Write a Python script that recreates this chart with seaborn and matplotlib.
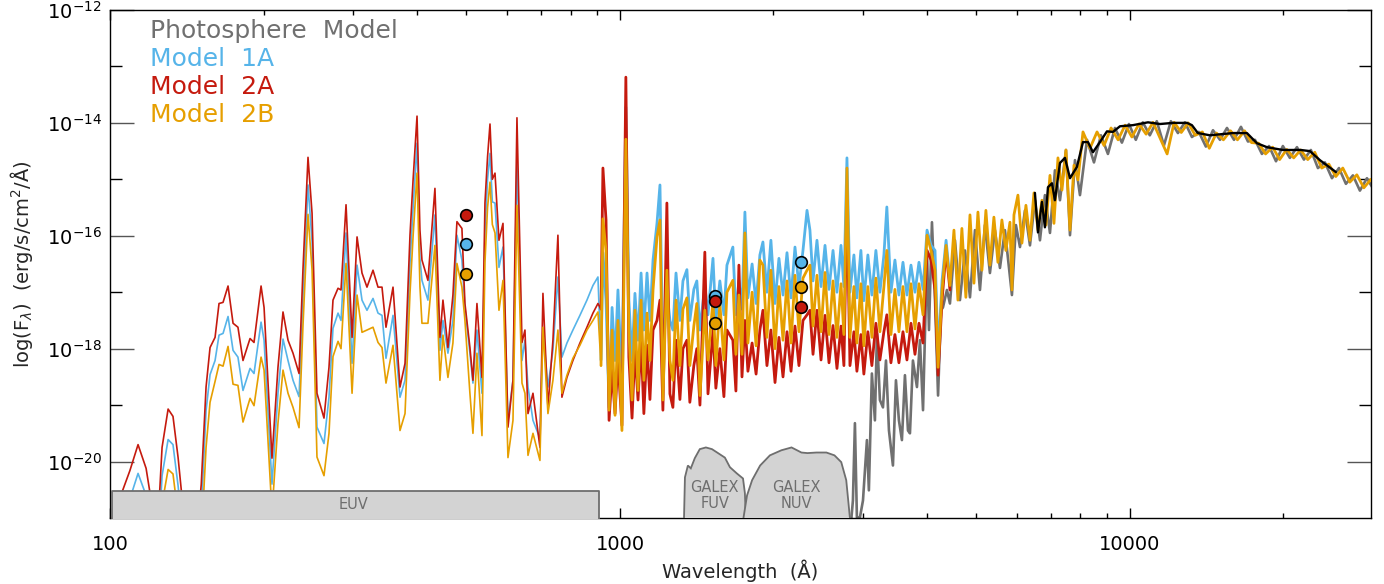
import numpy as np
import matplotlib
matplotlib.use("Agg")
import matplotlib.pyplot as plt
import seaborn as sns
from matplotlib.ticker import FixedLocator, LogFormatterSciNotation, NullFormatter, LogLocator

# ---------------------------------------------------------------------------
# Spectra: wavelength in Angstrom, flux given as log10(erg/s/cm^2/A)
# ---------------------------------------------------------------------------

# EUV part (shared wavelength grid for the three chromosphere models)
wave_euv = [100, 105, 109.4, 113.5, 117.7, 120.5, 124, 126.5, 130.0, 132.9,
            136.0, 139, 148, 151, 154.3, 157.1, 160.7, 163.6, 166.6, 170.4,
            174.3, 178.2, 182.3, 188.2, 191.6, 197.8, 200.5, 207.8, 213.5, 218.4,
            223.4, 228.5, 234.8, 239.0, 244.5, 249, 254.6, 262.8, 268.8, 273.7,
            280.0, 283.8, 290.3, 298.3, 305.1, 312.0, 319.1, 327.9, 335.4, 341.5,
            347.7, 358.9, 370.4, 378.9, 387.5, 393, 400.0, 405.3, 409.0, 420.2,
            433.7, 443.6, 449.7, 459.9, 470.4, 479.0, 489.9, 496.6, 507.9, 514.9,
            524.3, 536.3, 543.6, 550.0, 556.1, 562, 568.8, 579.1, 589.7, 603.1,
            616.9, 628.1, 642.5, 651.2, 660.2, 675.2, 696.8, 706.3, 722.4, 738.9,
            755.7, 769.5, 787.1, 808.6, 834.6, 861.5, 885.2, 905.4, 918]

model_1a_euv = [-21.6, -21.1, -20.66, -20.21, -20.6, -21.2, -21.7, -20.25, -19.61, -19.70,
                -20.43, -21.3, -21.8, -20.9, -19.1, -18.46, -18.21, -17.76, -17.73, -17.43,
                -18.03, -18.15, -18.74, -18.35, -18.44, -17.53, -17.85, -20.4, -18.79, -17.83,
                -18.21, -18.56, -18.85, -17.1, -15.10, -16.1, -19.39, -19.68, -18.86, -17.64,
                -17.37, -17.5, -15.95, -18.26, -16.52, -17.14, -17.32, -17.11, -17.37, -17.41,
                -18.17, -17.41, -18.86, -18.56, -16.49, -15.5, -14.36, -16.4, -16.79, -17.14,
                -15.63, -18.03, -17.50, -18.08, -17.50, -15.99, -16.43, -17.27, -18.08, -18.61,
                -17.67, -18.79, -15.95, -15.0, -14.54, -15.4, -15.42, -16.56, -16.20, -19.27,
                -18.56, -14.66, -18.21, -17.85, -18.68, -19.27, -19.59, -17.64, -18.68, -18.03,
                -16.73, -18.15, -17.90, -17.67, -17.41, -17.14, -16.88, -16.73, -18.2]

model_2a_euv = [-21.1, -20.6, -20.16, -19.70, -20.12, -20.7, -21.2, -19.75, -19.07, -19.20,
                -19.93, -20.8, -21.3, -20.4, -18.68, -17.98, -17.80, -17.20, -17.18, -16.89,
                -17.55, -17.62, -18.21, -17.82, -17.89, -16.89, -17.27, -19.94, -18.33, -17.35,
                -17.85, -18.08, -18.44, -16.6, -14.61, -15.6, -18.79, -19.23, -18.33, -17.14,
                -16.93, -16.96, -15.45, -17.80, -16.02, -16.66, -16.91, -16.61, -16.91, -16.91,
                -17.62, -16.91, -18.68, -18.26, -15.99, -15.0, -13.88, -15.9, -16.43, -16.79,
                -15.16, -17.80, -17.14, -17.98, -17.05, -15.75, -15.87, -17.20, -17.98, -18.56,
                -17.20, -18.51, -15.42, -14.6, -14.02, -15.0, -14.89, -16.08, -15.78, -19.39,
                -18.56, -13.91, -17.89, -17.67, -19.15, -18.79, -19.75, -17.02, -19.04, -17.85,
                -15.99, -18.86, -18.51, -18.21, -17.90, -17.62, -17.37, -17.20, -17.3]

model_2b_euv = [-22.0, -21.6, -21.2, -20.65, -21.1, -21.7, -22.0, -20.75, -20.14, -20.22,
                -20.95, -21.8, -22.0, -21.4, -19.75, -18.95, -18.58, -18.28, -18.31, -17.96,
                -18.63, -18.65, -19.30, -18.88, -19.01, -18.15, -18.38, -20.9, -19.32, -18.38,
                -18.79, -19.04, -19.40, -17.6, -15.62, -16.6, -19.92, -20.25, -19.50, -18.14,
                -17.87, -18.0, -16.49, -18.79, -17.05, -17.71, -17.67, -17.62, -17.89, -17.98,
                -18.61, -17.94, -19.45, -19.15, -17.02, -16.0, -14.89, -16.9, -17.55, -17.55,
                -16.17, -18.56, -17.76, -18.51, -17.90, -16.49, -16.91, -17.50, -18.79, -19.50,
                -18.08, -19.54, -16.47, -15.5, -15.05, -15.8, -15.95, -17.32, -16.79, -19.93,
                -19.27, -15.46, -18.61, -18.79, -19.89, -19.50, -19.98, -17.62, -19.15, -18.56,
                -17.67, -18.79, -18.47, -18.17, -17.94, -17.67, -17.50, -17.35, -18.3]

# FUV / NUV part (shared grid)
wave_uv = [926, 939, 952, 965, 978, 991, 1009, 1027, 1041, 1056,
           1070, 1085, 1100, 1114, 1130, 1145, 1161, 1182, 1198, 1214,
           1236, 1253, 1270, 1288, 1311, 1329, 1353, 1371, 1396, 1415,
           1435, 1467, 1488, 1522, 1542, 1570, 1599, 1621, 1665, 1688,
           1711, 1735, 1758, 1782, 1816, 1849, 1881, 1907, 1942, 1977,
           2014, 2050, 2088, 2126, 2165, 2204, 2244, 2285, 2327, 2358,
           2391, 2434, 2479, 2524, 2570, 2617, 2664, 2713, 2749, 2787,
           2825, 2876, 2915, 2968, 3008, 3063, 3119, 3176, 3234, 3293,
           3337, 3399, 3461, 3524, 3589, 3654, 3721, 3789, 3858, 3929,
           4001, 4074, 4148, 4205, 4282, 4360, 4437]

model_1a_uv = [-16.3, -17.14, -19.04, -17.27, -18.21, -16.96, -18.61, -13.72, -17.14, -18.21,
               -17.02, -17.85, -16.66, -17.67, -16.66, -17.50, -16.43, -15.78, -15.10, -18.21,
               -16.96, -17.50, -17.67, -16.66, -17.50, -16.80, -16.60, -17.50, -16.95, -16.80,
               -17.67, -16.88, -17.40, -16.40, -17.50, -16.80, -17.40, -16.52, -16.20, -17.40,
               -16.79, -17.30, -15.58, -17.10, -16.50, -17.20, -16.34, -16.11, -17.00, -16.08,
               -17.20, -16.40, -17.05, -16.30, -17.10, -16.20, -16.90, -16.26, -15.55, -15.90,
               -16.80, -16.08, -16.90, -16.17, -16.95, -16.26, -17.00, -16.17, -16.90, -14.62,
               -17.00, -16.34, -17.10, -16.26, -17.15, -16.34, -17.05, -16.26, -17.00, -16.34,
               -15.49, -17.00, -16.43, -17.05, -16.47, -17.05, -16.52, -17.00, -16.47, -16.95,
               -15.90, -16.17, -16.26, -18.12, -16.79, -16.08, -16.79]

model_2a_uv = [-14.80, -15.72, -19.27, -18.38, -19.15, -18.21, -19.36, -13.19, -18.15, -19.23,
               -18.03, -18.91, -17.85, -19.15, -17.94, -18.90, -17.67, -17.50, -17.14, -19.09,
               -15.42, -18.80, -19.04, -17.85, -18.90, -18.00, -17.85, -18.95, -18.30, -18.00,
               -19.00, -16.29, -18.80, -17.67, -18.70, -18.00, -18.85, -17.67, -17.85, -18.75,
               -16.52, -18.50, -17.50, -18.40, -17.90, -18.45, -17.67, -17.32, -18.30, -17.67,
               -18.60, -17.80, -18.50, -17.70, -18.40, -17.60, -18.30, -17.50, -17.40, -17.32,
               -18.10, -17.32, -18.20, -17.41, -18.25, -17.59, -18.35, -17.60, -18.30, -15.37,
               -18.30, -17.70, -18.40, -17.75, -18.45, -17.70, -18.30, -17.55, -18.20, -17.70,
               -17.40, -18.25, -17.75, -18.25, -17.70, -18.20, -17.55, -18.10, -17.55, -17.90,
               -16.26, -16.43, -16.96, -18.47, -17.14, -16.26, -16.96]

model_2b_uv = [-15.7, -16.26, -19.09, -17.67, -19.18, -17.50, -19.45, -14.29, -17.67, -18.91,
               -17.32, -18.74, -17.14, -18.56, -17.37, -18.21, -16.96, -16.02, -15.72, -18.91,
               -16.61, -18.21, -18.56, -17.14, -18.30, -17.30, -17.10, -18.30, -17.60, -17.20,
               -18.83, -17.32, -18.20, -17.14, -18.30, -17.20, -18.20, -17.00, -16.79, -18.10,
               -17.05, -18.10, -15.95, -17.90, -17.00, -17.95, -16.43, -16.52, -17.80, -16.61,
               -18.00, -16.90, -17.85, -16.80, -17.90, -16.70, -17.70, -16.75, -16.61, -16.52,
               -17.60, -16.70, -17.70, -16.65, -17.75, -16.80, -17.80, -16.85, -17.75, -14.80,
               -17.80, -16.90, -17.90, -16.85, -17.95, -16.90, -17.80, -16.75, -17.70, -16.90,
               -16.26, -17.75, -16.95, -17.70, -16.90, -17.70, -16.85, -17.65, -16.85, -17.40,
               -15.99, -16.26, -16.61, -18.33, -16.96, -16.17, -16.88]

# Optical / near-IR, where the models sit on the photosphere
wave_opt = [4518, 4600, 4683, 4768, 4857, 4945, 5035, 5126, 5219, 5315,
            5411, 5510, 5610, 5712, 5818, 5870, 5924, 6031, 6141, 6253,
            6368, 6484, 6602, 6722, 6845, 6970, 7097, 7226, 7358, 7492,
            7629, 7768, 7910, 8090, 8350, 8620, 8897, 9184, 9480, 9786,
            10090, 10420, 10760, 11100, 11830, 12210, 12610, 13010, 13430, 13870,
            14310, 14780, 15250, 15750, 16250, 16780, 17320, 17880, 18450, 19050,
            19660, 20300, 20950, 21620, 22320, 23040, 23780, 24550, 25340, 26150,
            26990, 27860, 28760, 29690, 30800]

model_2b_opt = [-15.90, -17.14, -15.87, -17.09, -15.63, -16.84, -15.58, -16.61, -15.55, -16.52,
                -15.67, -16.47, -15.72, -16.26, -15.76, -16.96, -15.63, -15.28, -16.13, -15.46,
                -16.08, -15.24, -15.90, -15.37, -15.81, -14.93, -15.78, -14.62, -15.19, -14.48,
                -15.90, -14.75, -15.01, -14.16, -14.45, -14.16, -14.40, -14.09, -14.30, -14.04,
                -14.25, -14.02, -14.20, -13.99, -14.55, -13.99, -14.17, -14.00, -14.22, -14.16,
                -14.45, -14.18, -14.30, -14.14, -14.30, -14.14, -14.35, -14.36, -14.55, -14.43,
                -14.65, -14.47, -14.62, -14.48, -14.65, -14.52, -14.80, -14.73, -14.95, -14.80,
                -15.05, -14.92, -15.15, -15.00, -15.20]

# Photosphere-only model
wave_phot = [2774, 2825, 2863, 2889, 2915, 2955, 2996, 3050, 3077, 3119,
             3162, 3191, 3234, 3279, 3324, 3369, 3430, 3477, 3524, 3572,
             3621, 3671, 3704, 3754, 3823, 3875, 3929, 4001, 4036, 4091,
             4148, 4205, 4261, 4299, 4377, 4437, 4539, 4642, 4748, 4857,
             4968, 5081, 5196, 5315, 5436, 5561, 5687, 5870, 5977, 6087,
             6226, 6368, 6512, 6662, 6813, 6970, 7128, 7292, 7492, 7629,
             7803, 7981, 8238, 8502, 8774, 9055, 9346, 9645, 9955, 10270,
             10600, 10940, 11290, 11660, 12030, 12420, 12820, 13230, 13650, 14090,
             14550, 15020, 15500, 16000, 16510, 17040, 17590, 18150, 18740, 19340,
             19950, 20590, 21260, 21940, 22640, 23370, 24120, 24900, 25700, 26520,
             27370, 28250, 29160, 30370]

photosphere = [-21.3, -21.3, -20.69, -19.32, -20.99, -20.99, -20.69, -19.62, -20.51, -18.44,
               -19.27, -17.73, -18.91, -19.04, -18.21, -19.45, -20.07, -18.56, -19.27, -19.62,
               -18.47, -19.45, -19.50, -18.21, -18.68, -17.85, -19.09, -16.31, -17.67, -15.76,
               -17.14, -18.83, -17.32, -17.27, -16.96, -17.20, -16.08, -17.14, -16.26, -17.09,
               -15.90, -16.96, -15.81, -16.66, -15.90, -16.57, -15.90, -17.05, -15.81, -16.20,
               -15.55, -16.17, -15.37, -16.08, -15.28, -15.95, -14.84, -15.37, -14.48, -15.99,
               -14.66, -15.28, -14.30, -14.70, -14.22, -14.55, -14.09, -14.35, -14.02, -14.30,
               -13.99, -14.22, -13.97, -14.40, -13.97, -14.18, -13.99, -14.25, -14.16, -14.42,
               -14.13, -14.30, -14.09, -14.30, -14.07, -14.33, -14.30, -14.55, -14.41, -14.68,
               -14.41, -14.62, -14.43, -14.65, -14.48, -14.80, -14.70, -14.98, -14.80, -15.08,
               -14.93, -15.20, -14.98, -15.25]

# Observed optical/IR spectrum
wave_obs = [6512, 6602, 6722, 6813, 6907, 7033, 7128, 7292, 7458, 7629,
            7872, 8090, 8274, 8463, 8735, 9015, 9262, 9561, 10140, 10850,
            11460, 12140, 12940, 13230, 13590, 14350, 15920, 16960, 17740, 18560,
            19950, 21620, 22540, 23580, 25340]
observed = [-15.24, -15.94, -15.40, -15.85, -15.14, -15.07, -15.37, -14.71, -14.62, -14.98,
            -14.78, -14.34, -14.34, -14.52, -14.34, -14.15, -14.16, -14.06, -14.04, -13.99,
            -14.02, -14.00, -14.00, -14.04, -14.18, -14.22, -14.18, -14.18, -14.36, -14.43,
            -14.48, -14.48, -14.50, -14.66, -14.87]

# Band-integrated model fluxes (EUV, GALEX FUV, GALEX NUV)
band_wave = [500, 1535, 2265]
band_1a = [-16.15, -17.07, -16.47]
band_2a = [-15.63, -17.16, -17.27]
band_2b = [-16.68, -17.55, -16.91]

# Bandpass outlines, drawn in flux units of the plot
fuv_wave = [1335, 1341, 1359, 1377, 1402, 1434, 1474, 1515, 1557, 1606, 1643, 1695, 1743, 1758, 1766]
fuv_curve = [-21.05, -20.28, -20.07, -20.12, -19.94, -19.78, -19.75, -19.78, -19.85, -19.93,
             -20.10, -20.21, -20.30, -20.56, -21.05]
nuv_wave = [1743, 1775, 1816, 1883, 1968, 2073, 2170, 2269, 2332, 2428, 2540, 2634, 2716, 2778, 2803, 2828]
nuv_curve = [-21.05, -20.60, -20.33, -20.07, -19.89, -19.80, -19.75, -19.84, -19.85, -19.84,
             -19.84, -19.89, -20.01, -20.33, -20.69, -21.05]
euv_band = [101, 910]
euv_top = -20.53

# ---------------------------------------------------------------------------
C_PHOT = "#707070"
C_1A = "#56B4E9"
C_2A = "#C51A0E"
C_2B = "#E69F00"
BOX_FACE = "#D3D3D3"
BOX_EDGE = "#6E6E6E"

sns.set_style("ticks")
plt.rcParams["font.family"] = ["DejaVu Sans"]
plt.rcParams["mathtext.fontset"] = "dejavusans"

fig = plt.figure(figsize=(13.84, 5.84), dpi=100)
ax = fig.add_axes([110 / 1384, 1 - 518 / 584, 1261 / 1384, 508 / 584])
ax.set_xscale("log")
ax.set_yscale("log")


def lin(vals):
    return np.power(10.0, np.asarray(vals, dtype=float))


def trace(x, logy, color, lw, z):
    sns.lineplot(x=np.asarray(x, dtype=float), y=lin(logy), ax=ax, color=color,
                 linewidth=lw, estimator=None, sort=False, errorbar=None, zorder=z)


# the EUV pieces are thin, smooth model lines; longward of the Lyman edge the
# line forest is drawn heavier so the dense emission reads as a band
w_uv = [wave_euv[-1]] + list(wave_uv)
trace(wave_phot, photosphere, C_PHOT, 1.9, 2)
trace(wave_euv, model_1a_euv, C_1A, 1.2, 3)
trace(w_uv, [model_1a_euv[-1]] + list(model_1a_uv), C_1A, 2.0, 3)
trace(wave_euv, model_2a_euv, C_2A, 1.2, 4)
trace(w_uv, [model_2a_euv[-1]] + list(model_2a_uv), C_2A, 2.0, 4)
trace(wave_euv, model_2b_euv, C_2B, 1.2, 5)
trace(w_uv + list(wave_opt), [model_2b_euv[-1]] + list(model_2b_uv) + list(model_2b_opt),
      C_2B, 2.0, 5)
trace(wave_obs, observed, "black", 1.7, 6)

# Bandpasses
ax.fill_between(euv_band, 1e-22, 10 ** euv_top, facecolor=BOX_FACE, edgecolor=BOX_EDGE,
                linewidth=1.3, zorder=7)
ax.fill(fuv_wave, lin(fuv_curve), facecolor=BOX_FACE, edgecolor=BOX_EDGE, linewidth=1.3, zorder=7)
ax.fill(nuv_wave, lin(nuv_curve), facecolor=BOX_FACE, edgecolor=BOX_EDGE, linewidth=1.3, zorder=7)
ax.text(300, 10 ** -20.76, "EUV", ha="center", va="center", color=BOX_EDGE, fontsize=10.5, zorder=8)
ax.text(1535, 10 ** -20.6, "GALEX\nFUV", ha="center", va="center", color=BOX_EDGE,
        fontsize=10.5, linespacing=1.05, zorder=8)
ax.text(2222, 10 ** -20.6, "GALEX\nNUV", ha="center", va="center", color=BOX_EDGE,
        fontsize=10.5, linespacing=1.05, zorder=8)

# Band fluxes of the three models
for vals, col in ((band_1a, C_1A), (band_2b, C_2B), (band_2a, C_2A)):
    sns.scatterplot(x=band_wave, y=lin(vals), ax=ax, color=col, s=70, edgecolor="black",
                    linewidth=1.2, zorder=9)

# Axes ranges and ticks
ax.set_xlim(100, 29700)
ax.set_ylim(1e-21, 1e-12)
ax.xaxis.set_major_locator(FixedLocator([100, 1000, 10000]))
ax.set_xticklabels(["100", "1000", "10000"])
ax.xaxis.set_minor_locator(LogLocator(base=10, subs=np.arange(2, 10)))
ax.xaxis.set_minor_formatter(NullFormatter())
ax.yaxis.set_major_locator(FixedLocator([1e-20, 1e-18, 1e-16, 1e-14, 1e-12]))
ax.yaxis.set_major_formatter(LogFormatterSciNotation())
ax.yaxis.set_minor_locator(FixedLocator([1e-19, 1e-17, 1e-15, 1e-13]))
ax.yaxis.set_minor_formatter(NullFormatter())

ax.tick_params(axis="both", which="both", direction="in", top=True, right=True,
               colors="black", labelsize=14)
ax.tick_params(axis="x", which="major", length=7.2, width=1.0, pad=12)
ax.tick_params(axis="x", which="minor", length=3.6, width=1.0)
ax.tick_params(axis="y", which="major", length=17, width=1.0, pad=6, color="#555555")
ax.tick_params(axis="y", which="minor", length=8.6, width=1.0)
for sp in ax.spines.values():
    sp.set_color("black")
    sp.set_linewidth(1.0)

fig.text(740 / 1384, 1 - 571 / 584, "Wavelength  (Å)", ha="center", va="center", fontsize=14)
fig.text(22 / 1384, 1 - 264 / 584, r"log(F$_\lambda$)  (erg/s/cm$^2$/Å)", ha="center",
         va="center", rotation=90, fontsize=14)

# Legend as coloured text
legend_rows = [("Photosphere  Model", C_PHOT), ("Model  1A", C_1A),
               ("Model  2A", C_2A), ("Model  2B", C_2B)]
for i, (label, col) in enumerate(legend_rows):
    ax.text(0.0317, 0.9587 - i * 0.0553, label, transform=ax.transAxes, color=col,
            fontsize=18, ha="left", va="center", zorder=10)

fig.savefig("out.png", dpi=100)
